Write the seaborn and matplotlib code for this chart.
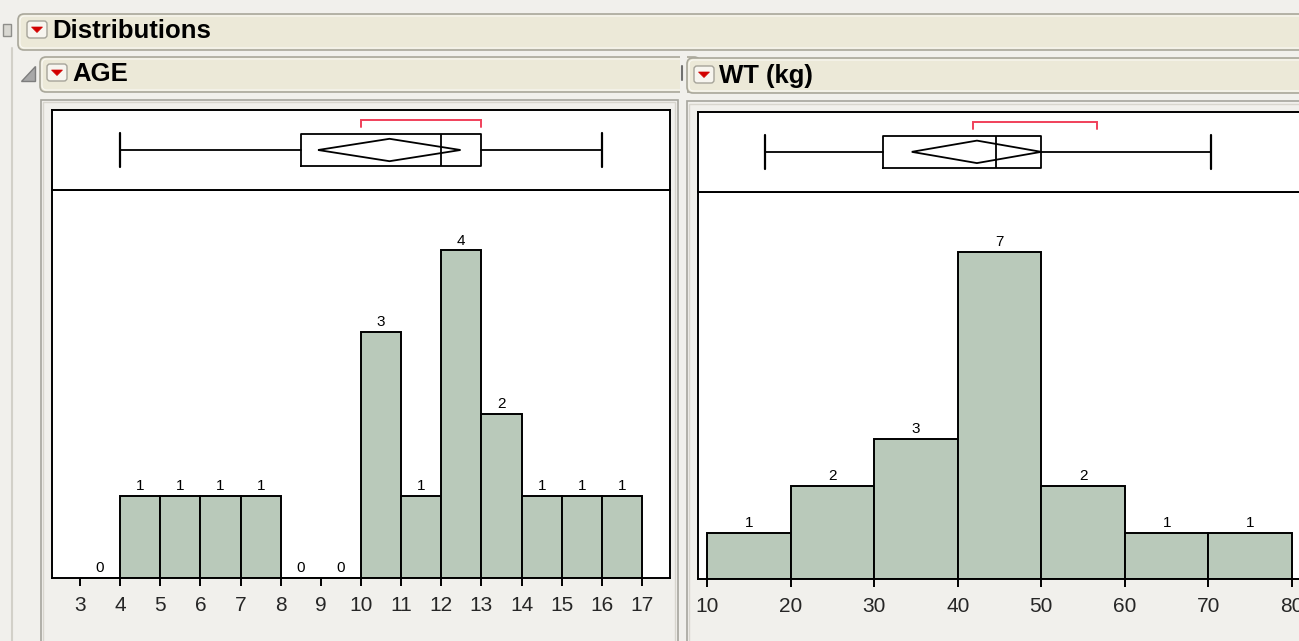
import numpy as np
import matplotlib
matplotlib.use("Agg")
import matplotlib.pyplot as plt
from matplotlib.patches import FancyBboxPatch, Rectangle, Polygon
import seaborn as sns

# ---- data -------------------------------------------------------------
age_edges = [3, 4, 5, 6, 7, 8, 9, 10, 11, 12, 13, 14, 15, 16, 17]
age_counts = [0, 1, 1, 1, 1, 0, 0, 3, 1, 4, 2, 1, 1, 1]
age_ticks = list(range(3, 18))
# whisker low, q1, median, q3, whisker high
age_box = [4, 8.5, 12, 13, 16]
age_mean_ci = [8.93, 10.71, 12.48]      # lower CI, mean, upper CI
age_short_half = [10, 13]

wt_edges = [10, 20, 30, 40, 50, 60, 70, 80]
wt_counts = [1, 2, 3, 7, 2, 1, 1]
wt_ticks = [10, 20, 30, 40, 50, 60, 70, 80]
wt_box = [16.9, 31.1, 44.6, 50.0, 70.3]
wt_mean_ci = [34.5, 42.3, 50.0]
wt_short_half = [41.8, 56.7]

# ---- figure setup -----------------------------------------------------
sns.set_style("white")
plt.rcParams["font.family"] = ["Liberation Sans", "DejaVu Sans"]

W, H = 1299, 641
DPI = 100
fig = plt.figure(figsize=(W / DPI, H / DPI), dpi=DPI)
BG = "#F1F0EC"
HEAD = "#ECE9D8"
HEAD_EDGE = "#A9A79B"
fig.patch.set_facecolor(BG)

# pixel-space canvas for the window chrome
bg = fig.add_axes([0, 0, 1, 1], zorder=-10)
bg.set_xlim(0, W)
bg.set_ylim(H, 0)
bg.axis("off")


def px_rect(x0, y0, x1, y1):
    return [x0 / W, 1 - y1 / H, (x1 - x0) / W, (y1 - y0) / H]


def header(x0, y0, x1, y1):
    bg.add_patch(FancyBboxPatch((x0, y0), x1 - x0, y1 - y0,
                                boxstyle="round,pad=0,rounding_size=6",
                                fc=HEAD, ec=HEAD_EDGE, lw=1.2))
    bg.add_patch(FancyBboxPatch((x0 + 2, y0 + 2), x1 - x0 - 4, y1 - y0 - 4,
                                boxstyle="round,pad=0,rounding_size=5",
                                fc="none", ec="#FAF9F4", lw=0.8))


def menu_button(x, y, w=20, h=17):
    bg.add_patch(FancyBboxPatch((x, y), w, h,
                                boxstyle="round,pad=0,rounding_size=3",
                                fc="#F7F5EF", ec="#A6A49A", lw=1.0))
    cx, cy = x + w / 2, y + h / 2
    bg.add_patch(Polygon([(cx - 5.5, cy - 2.5), (cx + 5.5, cy - 2.5), (cx, cy + 3)],
                         closed=True, fc="#D20000", ec="#D20000", lw=0.5))


# left edge strip and small icon
bg.plot([12, 12], [48, H], color="#D2D0C8", lw=1.5)
bg.add_patch(Rectangle((3, 24), 8, 12, fc="#D9D8D2", ec="#8E8E8A", lw=1.0))

# top level header
header(18, 14, W + 30, 50)
menu_button(27, 21)
bg.text(52, 31, "Distributions", fontsize=18.5, fontweight="bold",
        va="center", ha="left", color="black")

# AGE header
header(40, 57, 700, 92)
bg.add_patch(Rectangle((680, 53), 7, 44, fc=BG, ec="none"))
bg.plot([682.5, 682.5], [66, 80], color="#707070", lw=1.5)
menu_button(47, 64)
bg.text(72, 74, "AGE", fontsize=18.5, fontweight="bold",
        va="center", ha="left", color="black")
bg.add_patch(Polygon([(35, 66), (35, 80.5), (21.5, 80.5)], closed=True,
                     fc="#A8A8A8", ec="#7D7D7D", lw=1.0))

# WT header
header(687, 58, W + 30, 93)
menu_button(694, 66)
bg.text(719, 76, "WT (kg)", fontsize=18.5, fontweight="bold",
        va="center", ha="left", color="black")

# panel frames
for (x0, y0, x1) in [(41, 99.5, 678), (687, 101, W + 30)]:
    bg.add_patch(Rectangle((x0, y0), x1 - x0, H + 30 - y0,
                           fc=BG, ec="#A6A59D", lw=1.2))
    bg.add_patch(Rectangle((x0 + 2.5, y0 + 2.5), x1 - x0 - 5, H + 30 - y0,
                           fc="none", ec="#D8D6CE", lw=1.0))

BAR = "#B9C9BA"
RED = "#F0405A"


def draw_panel(box_rect, hist_rect, xlim, ymax, edges, counts, ticks,
               box, mean_ci, short_half):
    # ---- histogram ----
    axh = fig.add_axes(px_rect(*hist_rect))
    axh.set_facecolor("white")
    centers = [(a + b) / 2 for a, b in zip(edges[:-1], edges[1:])]
    sns.histplot(x=centers, weights=counts, bins=edges, ax=axh,
                 color=BAR, edgecolor="black", linewidth=1.4, alpha=1.0)
    axh.bar_label(axh.containers[0], fmt="%g", padding=2,
                  fontsize=11, color="black")
    axh.set_xlim(*xlim)
    axh.set_ylim(0, ymax)
    axh.set_xticks(ticks)
    axh.set_xticklabels([str(t) for t in ticks])
    axh.set_yticks([])
    axh.set_xlabel("")
    axh.set_ylabel("")
    axh.tick_params(axis="x", direction="out", length=6, width=1.4,
                    color="black", labelsize=15, pad=7, bottom=True)
    for s in axh.spines.values():
        s.set_color("black")
        s.set_linewidth(1.4)

    # ---- box plot strip ----
    axb = fig.add_axes(px_rect(*box_rect))
    axb.set_facecolor("white")
    stats = [dict(whislo=box[0], q1=box[1], med=box[2], q3=box[3],
                  whishi=box[4], fliers=[])]
    axb.bxp(stats, positions=[0], widths=0.8, orientation="horizontal",
            showfliers=False, capwidths=0.85,
            boxprops=dict(color="black", linewidth=1.3),
            medianprops=dict(color="black", linewidth=1.3),
            whiskerprops=dict(color="black", linewidth=1.3),
            capprops=dict(color="black", linewidth=1.6))
    lo, mu, hi = mean_ci
    axb.add_patch(Polygon([(lo, 0), (mu, 0.28), (hi, 0), (mu, -0.28)],
                          closed=True, fc="none", ec="black", lw=1.3))
    s0, s1 = short_half
    axb.plot([s0, s0, s1, s1], [0.58, 0.75, 0.75, 0.58], color=RED,
             lw=1.4, solid_joinstyle="miter")
    axb.set_xlim(*xlim)
    axb.set_ylim(-1, 1)
    axb.set_xticks([])
    axb.set_yticks([])
    for s in axb.spines.values():
        s.set_color("black")
        s.set_linewidth(1.4)


# AGE panel: axis pixel box x 52..670
age_ppu = (642 - 80) / 14
draw_panel(box_rect=(52, 110, 670, 190), hist_rect=(52, 190, 670, 577.5),
           xlim=(3 - (80 - 52) / age_ppu, 17 + (670 - 642) / age_ppu),
           ymax=387.5 / 81.8,
           edges=age_edges, counts=age_counts, ticks=age_ticks,
           box=age_box, mean_ci=age_mean_ci, short_half=age_short_half)

# WT panel: axis pixel box x 698..(beyond right edge)
wt_ppu = (1292 - 707) / 70
draw_panel(box_rect=(698.3, 111.7, 1310, 192), hist_rect=(698.3, 192, 1310, 579.3),
           xlim=(10 - (707 - 698.3) / wt_ppu, 80 + (1310 - 1292) / wt_ppu),
           ymax=387.3 / 46.8,
           edges=wt_edges, counts=wt_counts, ticks=wt_ticks,
           box=wt_box, mean_ci=wt_mean_ci, short_half=wt_short_half)

fig.savefig("out.png", dpi=DPI, facecolor=BG)
